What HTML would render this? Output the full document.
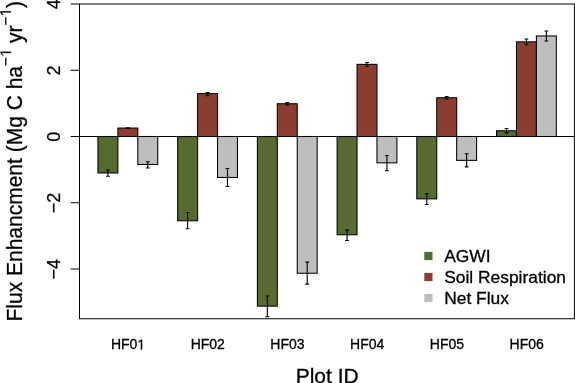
<!DOCTYPE html>
<html><head><meta charset="utf-8"><title>Flux Enhancement</title>
<style>html,body{margin:0;padding:0;background:#fff;}body{width:575px;height:383px;overflow:hidden;}svg{display:block;will-change:transform;}text{font-family:"Liberation Sans",sans-serif;fill:#000;stroke:#000;stroke-width:0.3px;}.r text{stroke:#000;stroke-width:0.25px;}</style></head><body>
<svg width="575" height="383" viewBox="0 0 575 383">
<rect x="0" y="0" width="575" height="383" fill="#fff"/>
<rect x="97.94" y="136.50" width="19.93" height="36.45" fill="#556B2F" stroke="#000" stroke-width="1.05"/>
<rect x="117.87" y="128.05" width="19.93" height="8.45" fill="#8B3E2F" stroke="#000" stroke-width="1.05"/>
<rect x="137.80" y="136.50" width="19.93" height="27.95" fill="#BEBEBE" stroke="#000" stroke-width="1.05"/>
<rect x="177.66" y="136.50" width="19.93" height="84.25" fill="#556B2F" stroke="#000" stroke-width="1.05"/>
<rect x="197.59" y="93.65" width="19.93" height="42.85" fill="#8B3E2F" stroke="#000" stroke-width="1.05"/>
<rect x="217.52" y="136.50" width="19.93" height="40.95" fill="#BEBEBE" stroke="#000" stroke-width="1.05"/>
<rect x="257.38" y="136.50" width="19.93" height="169.65" fill="#556B2F" stroke="#000" stroke-width="1.05"/>
<rect x="277.31" y="103.75" width="19.93" height="32.75" fill="#8B3E2F" stroke="#000" stroke-width="1.05"/>
<rect x="297.24" y="136.50" width="19.93" height="136.75" fill="#BEBEBE" stroke="#000" stroke-width="1.05"/>
<rect x="337.10" y="136.50" width="19.93" height="98.25" fill="#556B2F" stroke="#000" stroke-width="1.05"/>
<rect x="357.03" y="64.35" width="19.93" height="72.15" fill="#8B3E2F" stroke="#000" stroke-width="1.05"/>
<rect x="376.96" y="136.50" width="19.93" height="26.35" fill="#BEBEBE" stroke="#000" stroke-width="1.05"/>
<rect x="416.82" y="136.50" width="19.93" height="62.35" fill="#556B2F" stroke="#000" stroke-width="1.05"/>
<rect x="436.75" y="97.75" width="19.93" height="38.75" fill="#8B3E2F" stroke="#000" stroke-width="1.05"/>
<rect x="456.68" y="136.50" width="19.93" height="23.85" fill="#BEBEBE" stroke="#000" stroke-width="1.05"/>
<rect x="496.54" y="130.75" width="19.93" height="5.75" fill="#556B2F" stroke="#000" stroke-width="1.05"/>
<rect x="516.47" y="41.85" width="19.93" height="94.65" fill="#8B3E2F" stroke="#000" stroke-width="1.05"/>
<rect x="536.40" y="35.95" width="19.93" height="100.55" fill="#BEBEBE" stroke="#000" stroke-width="1.05"/>
<path d="M107.91 169.95V176.25M106.00 169.95H109.81M106.00 176.25H109.81" stroke="#000" stroke-width="1.1" fill="none"/>
<path d="M127.83 127.75V128.35M125.93 127.75H129.73M125.93 128.35H129.73" stroke="#000" stroke-width="1.1" fill="none"/>
<path d="M147.76 161.75V168.05M145.86 161.75H149.66M145.86 168.05H149.66" stroke="#000" stroke-width="1.1" fill="none"/>
<path d="M187.62 212.55V228.75M185.72 212.55H189.53M185.72 228.75H189.53" stroke="#000" stroke-width="1.1" fill="none"/>
<path d="M207.56 92.45V95.65M205.66 92.45H209.46M205.66 95.65H209.46" stroke="#000" stroke-width="1.1" fill="none"/>
<path d="M227.48 168.55V186.55M225.58 168.55H229.38M225.58 186.55H229.38" stroke="#000" stroke-width="1.1" fill="none"/>
<path d="M267.35 295.95V316.65M265.45 295.95H269.25M265.45 316.65H269.25" stroke="#000" stroke-width="1.1" fill="none"/>
<path d="M287.27 102.65V104.85M285.38 102.65H289.17M285.38 104.85H289.17" stroke="#000" stroke-width="1.1" fill="none"/>
<path d="M307.20 262.15V284.15M305.31 262.15H309.10M305.31 284.15H309.10" stroke="#000" stroke-width="1.1" fill="none"/>
<path d="M347.06 230.15V240.45M345.17 230.15H348.96M345.17 240.45H348.96" stroke="#000" stroke-width="1.1" fill="none"/>
<path d="M367.00 62.55V66.55M365.10 62.55H368.89M365.10 66.55H368.89" stroke="#000" stroke-width="1.1" fill="none"/>
<path d="M386.93 155.55V170.75M385.03 155.55H388.82M385.03 170.75H388.82" stroke="#000" stroke-width="1.1" fill="none"/>
<path d="M426.78 193.75V204.55M424.88 193.75H428.68M424.88 204.55H428.68" stroke="#000" stroke-width="1.1" fill="none"/>
<path d="M446.71 96.55V99.25M444.81 96.55H448.61M444.81 99.25H448.61" stroke="#000" stroke-width="1.1" fill="none"/>
<path d="M466.64 153.75V166.85M464.75 153.75H468.54M464.75 166.85H468.54" stroke="#000" stroke-width="1.1" fill="none"/>
<path d="M506.50 128.45V132.85M504.61 128.45H508.40M504.61 132.85H508.40" stroke="#000" stroke-width="1.1" fill="none"/>
<path d="M526.43 39.05V44.75M524.53 39.05H528.33M524.53 44.75H528.33" stroke="#000" stroke-width="1.1" fill="none"/>
<path d="M546.37 30.95V40.95M544.47 30.95H548.26M544.47 40.95H548.26" stroke="#000" stroke-width="1.1" fill="none"/>
<line x1="79.5" y1="136.5" x2="574.4" y2="136.5" stroke="#000" stroke-width="1"/>
<rect x="79.5" y="4.0" width="494.9" height="314.75" fill="none" stroke="#000" stroke-width="1"/>
<line x1="70.7" y1="4.00" x2="79.5" y2="4.00" stroke="#000" stroke-width="1"/>
<g class="r"><text transform="translate(59.8,4.20) rotate(-90) scale(1,1.02)" text-anchor="middle" font-size="18">4</text></g>
<line x1="70.7" y1="70.25" x2="79.5" y2="70.25" stroke="#000" stroke-width="1"/>
<g class="r"><text transform="translate(59.8,70.45) rotate(-90) scale(1,1.02)" text-anchor="middle" font-size="18">2</text></g>
<line x1="70.7" y1="136.50" x2="79.5" y2="136.50" stroke="#000" stroke-width="1"/>
<g class="r"><text transform="translate(59.8,136.70) rotate(-90) scale(1,1.02)" text-anchor="middle" font-size="18">0</text></g>
<line x1="70.7" y1="202.75" x2="79.5" y2="202.75" stroke="#000" stroke-width="1"/>
<g class="r"><text transform="translate(59.8,202.95) rotate(-90) scale(1,1.02)" text-anchor="middle" font-size="18">−2</text></g>
<line x1="70.7" y1="269.00" x2="79.5" y2="269.00" stroke="#000" stroke-width="1"/>
<g class="r"><text transform="translate(59.8,269.20) rotate(-90) scale(1,1.02)" text-anchor="middle" font-size="18">−4</text></g>
<text x="110.92" y="349.4" font-size="14">HF0</text>
<path transform="translate(137.37,349.4) scale(0.006836,-0.006836)" d="M515 0V1237L197 1010V1180L530 1409H696V0Z" fill="#000" stroke="#000" stroke-width="43.9"/>
<text x="190.64" y="349.4" font-size="14">HF02</text>
<text x="270.36" y="349.4" font-size="14">HF03</text>
<text x="350.08" y="349.4" font-size="14">HF04</text>
<text x="429.80" y="349.4" font-size="14">HF05</text>
<text x="509.52" y="349.4" font-size="14">HF06</text>
<text x="327.2" y="382.6" text-anchor="middle" font-size="21">Plot ID</text>
<g class="r" transform="translate(21.9,321.5) rotate(-90) scale(1,1.02)">
<text x="0" y="0" font-size="21.0">Flux Enhancment (Mg C ha</text>
<text x="255.59" y="-10.78" font-size="15.0">−</text>
<path transform="translate(264.75,-10.78) scale(0.007324,-0.007324)" d="M515 0V1237L197 1010V1180L530 1409H696V0Z" fill="#000" stroke="#000" stroke-width="34.1"/>
<text x="272.69" y="0" font-size="21.0" xml:space="preserve"> yr</text>
<text x="296.02" y="-10.78" font-size="15.0">−</text>
<path transform="translate(305.18,-10.78) scale(0.007324,-0.007324)" d="M515 0V1237L197 1010V1180L530 1409H696V0Z" fill="#000" stroke="#000" stroke-width="34.1"/>
<text x="313.53" y="0" font-size="21.0">)</text>
</g>
<rect x="424.3" y="251.90" width="8.2" height="8.2" fill="#556B2F"/>
<text x="444.2" y="261.7" font-size="17.4">AGWI</text>
<rect x="424.3" y="272.90" width="8.2" height="8.2" fill="#8B3E2F"/>
<text x="444.2" y="282.7" font-size="17.4">Soil Respiration</text>
<rect x="424.3" y="293.90" width="8.2" height="8.2" fill="#BEBEBE"/>
<text x="444.2" y="303.7" font-size="17.4">Net Flux</text>
</svg></body></html>
